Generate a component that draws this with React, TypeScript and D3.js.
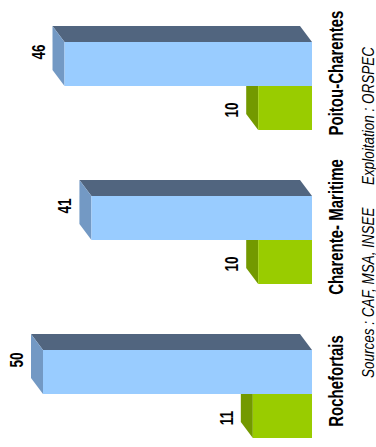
import * as d3 from 'd3'

// chart data
const categories = ['Poitou-Charentes', 'Charente- Maritime', 'Rochefortais']
const series = ['blue', 'green']
const blueValues = [46, 41, 50]
const greenValues = [10, 10, 11]
const sourceText = 'Sources : CAF, MSA, INSEE'
const exploitText = 'Exploitation : ORSPEC'

const W = 376
const H = 447
const FONT = '"Liberation Sans", Arial, sans-serif'

// 3d depth of the bars
const DX = 12
const DY = 16

const palette: Record<string, { front: string, top: string, side: string }> = {
  blue: { front: '#99CCFF', top: '#51657F', side: '#7399C4' },
  green: { front: '#99CC00', top: '#5F7F00', side: '#739900' },
}

export default function App() {
  // bars grow from right to left
  const x = d3.scaleLinear().domain([0, 50]).range([312, 43])
  const y0 = d3.scaleBand<string>().domain(categories).range([42, 438]).paddingInner(66 / 154)
  const y1 = d3.scaleBand<string>().domain(series).range([0, y0.bandwidth()])

  const pts = (p: [number, number][]) => p.map(d => d.join(',')).join(' ')

  const bar = (s: string, v: number, c: string) => {
    const col = palette[s]
    const x0 = x(v)
    const x1 = x(0)
    const top = (y0(c) || 0) + (y1(s) || 0)
    const bot = top + y1.bandwidth()
    return (
      <g key={s + c}>
        <polygon points={pts([[x0, top], [x1, top], [x1 - DX, top - DY], [x0 - DX, top - DY]])} fill={col.top} />
        <polygon points={pts([[x0 - DX, top - DY], [x0, top], [x0, bot], [x0 - DX, bot - DY]])} fill={col.side} />
        <rect x={x0} y={top} width={x1 - x0} height={bot - top} fill={col.front} />
      </g>
    )
  }

  const vlabel = (s: string, v: number, c: string, off: number) => {
    const cy = (y0(c) || 0) + (y1(s) || 0) + y1.bandwidth() / 2 + off
    const bx = x(v) - DX - 8
    return (
      <text key={'l' + s + c} transform={`translate(${bx},${cy}) rotate(-90) scale(1,1.35)`}
        textAnchor="middle" fontFamily={FONT} fontWeight="bold" fontSize={13.5} fill="#000">
        {v}
      </text>
    )
  }

  return (
    <svg width={W} height={H} style={{ position: 'absolute', left: 0, top: 0, background: '#fff' }}>
      {categories.map((c, i) => (
        <g key={c}>
          {bar('green', greenValues[i], c)}
          {bar('blue', blueValues[i], c)}
          {vlabel('blue', blueValues[i], c, -12)}
          {vlabel('green', greenValues[i], c, 2)}
          <text transform={`translate(343,${(y0(c) || 0) + y0.bandwidth() / 2 - 13}) rotate(-90) scale(1,1.3)`}
            textAnchor="middle" fontFamily={FONT} fontWeight="bold" fontSize={15} fill="#000">
            {c}
          </text>
        </g>
      ))}
      <text transform="translate(374,378) rotate(-90) scale(1,1.24)" textAnchor="start"
        fontFamily={FONT} fontStyle="italic" fontSize={13.5} fill="#000">{sourceText}</text>
      <text transform="translate(374,47) rotate(-90) scale(1,1.24)" textAnchor="end"
        fontFamily={FONT} fontStyle="italic" fontSize={13.5} fill="#000">{exploitText}</text>
    </svg>
  )
}
